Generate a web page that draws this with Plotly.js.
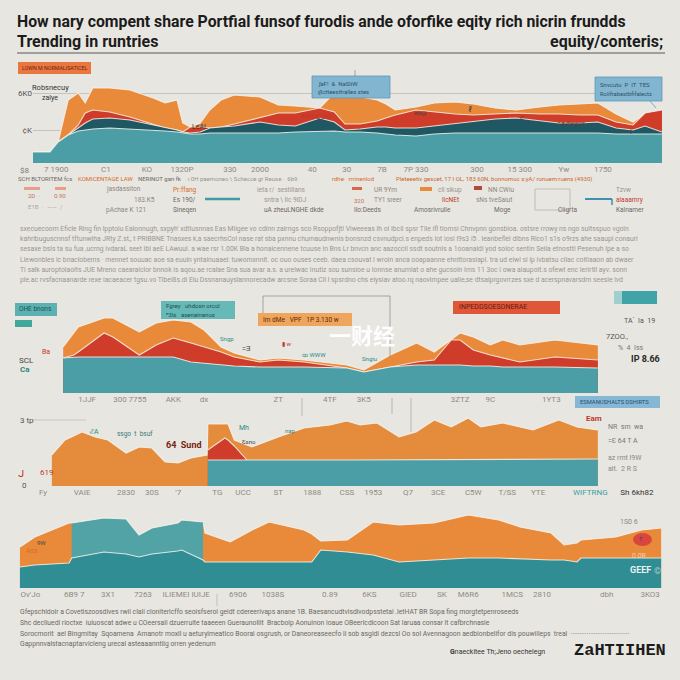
<!DOCTYPE html>
<html><head><meta charset="utf-8">
<script src="https://cdn.plot.ly/plotly-3.0.1.min.js"></script>
<style>html,body{margin:0;padding:0;background:#e8e6e1;}#chart{width:680px;height:680px;}</style>
</head><body><div id="chart"></div>
<script>
// ---------- DATA ----------
// Panel 1 (period index 0..100)
const p1_t      = [0,2.7,4,5.6,7.2,8.3,9.5,12.2,15.4,19.1,21,22.9,23.8,25,26.6,28.1,29.9,32,36.1,39,41.7,45.6,47.9,49.6,52,54.7,56.1,57.6,60.9,63.8,67.1,70,73.5,76.8,80.6,83.6,86.9,89.8,92.7,95.4,97.3,100];
const p1_teal   = [11,11,21,28,32,33,34,35,34,33,32,31,30,29,29,30,30,30,30,30,31,32,32,31,31,30,29,28,27,29,30,30,30,30,30,30,30,30,29,29,29,29];
const p1_dteal  = [11,11,21,28,35,40,44,45,43,38,35,33,31,30,31,35,36,37,41,38,37,45,41,33,34,36,36,35,35,37,40,42,44,45,42,40,40,41,35,33,37,31];
const p1_red    = [11,11,21,28,38,50,53,51,46,39,35,33,31,36,36,35,36,39,45,50,50,55,51,39,39,42,45,48,53,51,49,48,49,50,49,49,48,48,41,38,50,53];
const p1_orange = [11,11,21,63,70,60,75,75,73,65,60,63,40,36,40,53,63,68,66,58,57,55,70,68,66,63,59,53,56,60,61,59,55,53,56,58,59,60,49,41,50,53];
const p1_tickT    = [3.7,11.6,18.1,23.7,31.3,36.1,44.4,49.9,55.5,60.9,70.6,77.4,84.4,90.6];
const p1_tickText = ["7 1900","C1","KO","1320P","330","2000","40","30","7B","7P 330","300","15 300","Yw","1750"];
const p1_yTickV   = [33,70];
const p1_yTickText= ["¢K","6K0"];

// Panel 2
const p2_t      = [4.8,6.5,7.2,11.3,12.7,16.9,19.6,22.3,25.1,27.2,29.9,32,36.1,39,43.1,49.9,52.6,56.8,61,63.8,66.5,67.9,70,72.7,74.7,77.4,83,89.8];
const p2_teal   = [35,36,36,36,36,36,36,36,31,30,28,27,26,26,26,25,21,26,28,28,28,28,27,27,26,26,26,25];
const p2_red    = [35,38,41,60,56,38,48,55,50,46,41,36,31,33,31,25,21,26,31,33,53,53,43,38,35,31,36,33];
const p2_orange = [46,61,66,75,75,61,70,73,71,63,46,40,33,35,33,28,23,38,50,41,53,60,56,48,53,48,53,48];
const p2_tickT    = [8.6,15.4,22.3,27.2,39,47.2,52.6,67.9,72.7,82.4];
const p2_tickText = ["1JJF","300 7755","AKK","dx","ZT","4TF","3K5","3ZTZ","9C","1YT3"];

// Panel 3
const p3_t      = [3,5.1,7.8,9.9,11.9,14.8,16.9,18.9,21,23.1,25.1,27.7,27.8,30.5,31,32,34,34.8,39,43.1,47.2,49.9,52,54.7,58.2,60.9,63.8,66.5,69.2,71.2,74.7,79.5,83.6,86.5,89.8];
const p3_orange = [31,46,54,49,46,33,39,38,24,23,28,31,62,62,62,46,41,39,49,58,61,65,61,63,49,54,66,59,68,59,63,56,66,59,56];
const p3_tealT  = [27.8,50,89.8];
const p3_teal   = [26,26,27];
const p3_redT   = [27.8,30.5,31,32,34];
const p3_red    = [36,48,46,40,26];
const p3_tickT    = [1.6,7.8,14.8,18.9,23.1,29.3,33.4,39,44.4,49.9,54.1,59.6,64.4,70,75.4,80.3,88.6,96];
const p3_tickText = ["Fy","VAIE","2830","30S","'7","TG","UCC","ST","1888","CSS","1953","Q7","3CE","C5W","T/SS","YTE",
                     "<span style='color:#3d9ea6'>WIFTRNG</span>","<span style='color:#333'>Sh 6kh82</span>"];

// Panel 4
const p4_t      = [0.3,2.6,7.9,8.3,13.3,16.7,18.7,20.7,24.7,25.3,28.6,28.9,32.8,36.2,38.8,44.2,45.4,46.8,50.9,54.9,58.9,64.3,69.6,74.3,77.6,82.4,84.4,86.4,87,92.4,96.4,99.4];
const p4_orange = [41,51,65,65,70,69,53,60,65,68,66,55,46,58,66,58,54,47,48,66,63,65,73,68,61,55,43,45,48,51,58,60];
const p4_dteal  = [21,23,25,30,36,34,31,34,37,38,28,26,26,26,26,26,26,38,36,33,26,28,30,30,29,28,28,26,30,30,30,30];
const p4_lightT = [8.3,13.3,16.7,18.7,20.7,24.7,25.3,28.6];
const p4_light  = [65,70,69,53,60,65,68,66];
const p4_tickT    = [1.9,8.7,13.9,19.3,26,34,39.4,48.2,54.3,60.3,65.5,69.6,76.4,81,91,97.7];
const p4_tickText = ["Ov'Jo","6B9 7","3X1","7263","ILIEMEI IUIJE","6906","1038S","0.89","6KS","GIED","SK","M6R6","1MCS","2810","dbh","3KO3"];

// ---------- STYLE ----------
const C = {bg:'#e8e6e1', teal:'#4b9ea5', dteal:'#1f5863', red:'#cf3c29', orange:'#e98a3b',
           teal4:'#2f8d93', teal4l:'#52a3a6', grey:'#948f88', dark:'#2a2a2a'};
const NARROW = '"Liberation Sans Narrow","Roboto",sans-serif';
const W = 680;
const X = px => px / W;
const Y = py => 1 - py / W;

function area(x, y, color, n){
  return {type:'scatter', mode:'lines', x:x, y:y, fill:'tozeroy', fillcolor:color,
          line:{color:'rgba(247,243,236,0.85)', width:1.1, shape:'linear'},
          xaxis:'x'+(n>1?n:''), yaxis:'y'+(n>1?n:''), hoverinfo:'skip'};
}
const traces = [
  area(p1_t, p1_orange, C.orange, 1),
  area(p1_t, p1_red, C.red, 1),
  area(p1_t, p1_dteal, C.dteal, 1),
  area(p1_t, p1_teal, C.teal, 1),
  area(p2_t, p2_orange, C.orange, 2),
  area(p2_t, p2_red, C.red, 2),
  area(p2_t, p2_teal, C.teal, 2),
  area(p3_t, p3_orange, '#e48b3c', 3),
  area(p3_redT, p3_red, C.red, 3),
  area(p3_tealT, p3_teal, C.teal, 3),
  area(p4_t, p4_orange, C.orange, 4),
  area(p4_lightT, p4_light, C.teal4l, 4),
  area(p4_t, p4_dteal, C.teal4, 4)
];

function xax(d0, d1, tv, tt, anchor){
  return {domain:[X(d0), X(d1)], range:[0,100], anchor:anchor, showgrid:false, zeroline:false,
          showline:false, ticks:'', tickvals:tv, ticktext:tt, tickangle:0,
          tickfont:{family:NARROW, size:8, color:'#8f8a83'}, fixedrange:true};
}
function yax(bot, top, r, anchor){
  return {domain:[Y(bot), Y(top)], range:r, anchor:anchor, showgrid:false, zeroline:false,
          showline:false, showticklabels:false, ticks:'', fixedrange:true};
}

const ann = [];
function T(px, py, text, o){
  o = o || {};
  ann.push({xref:'paper', yref:'paper', x:X(px), y:Y(py), text:text, showarrow:false,
    xanchor:o.xa||'left', yanchor:'middle', align:o.al||'left',
    font:{family:o.f||NARROW, size:o.s||7, color:o.c||C.grey, weight:o.w||400}});
}
const shp = [];
function R(x0,y0,x1,y1,fill,line){
  shp.push({type:'rect', xref:'paper', yref:'paper', x0:X(x0), x1:X(x1), y0:Y(y0), y1:Y(y1),
            fillcolor:fill, line:{color:line||'rgba(0,0,0,0)', width:line?0.8:0}, layer:'above'});
}
function L(x0,y0,x1,y1,color,w){
  shp.push({type:'line', xref:'paper', yref:'paper', x0:X(x0), x1:X(x1), y0:Y(y0), y1:Y(y1),
            line:{color:color, width:w||1}, layer:'above'});
}

// ---- title ----
T(15, 22, "How nary compent share Portfial funsof furodis ande oforfike eqity rich nicrin frundds", {s:15.8, c:'#1b1b1b', w:700});
T(15, 41, "Trending in runtries", {s:16, c:'#1b1b1b', w:700});
T(665, 41, "equity/conteris;", {s:16, c:'#1b1b1b', w:700, xa:'right'});
L(17, 53, 665, 53, '#5a5856', 1);

// ---- panel 1 decorations ----
R(18, 62, 91, 74, '#e9773f');
T(20, 68, "LOWN M NORMALISATICEL", {s:5.3, c:'#6e2410'});
T(30, 88, "Robsnecuy", {s:7.5, c:'#333'});
T(40, 98, "zalye", {s:7, c:'#333'});
R(312, 76, 390, 98, '#82b6d0', '#5e98bb');
T(316, 83, "ʃaF!  &  NaSliW", {s:6, c:'#2f5069'});
T(316, 92, "ɩʃlctteesthalles stes", {s:6, c:'#2f5069'});
L(355, 70, 355, 76, '#777', 0.6);
R(595, 77, 662, 101, '#82b6d0', '#5e98bb');
T(598, 84, "Snvcutu  P  IT  TES", {s:6, c:'#2f5069'});
T(598, 94, "Rolifrabestbfifalectz", {s:5.8, c:'#2f5069'});
L(650, 101, 656, 108, '#5e98bb', 0.8);
T(190, 127, "LeAL", {s:7, c:'#333'});
T(299, 116, "PROCO0", {s:7.5, c:'#c0392b', w:700});
T(412, 113, "ws@", {s:6, c:'#444'});
T(466, 110, "ℓ", {s:8, c:'#444'});
T(518, 117, "ᴄ", {s:8, c:'#444'});
T(556, 122, "• a dwwos", {s:6, c:'#7a2b20'});
T(628, 132, "ɨ", {s:8, c:'#444'});
T(18, 170, "$8", {s:8, c:'#7d7871'});

// label row under panel 1
T(16, 179, "SCH BLTORITEM fcs", {s:6, c:'#6c6863'});
T(76, 179, "KOMICENTAGE LAW", {s:6, c:'#d86a2a'});
T(136, 179, "NERINOT gan fk", {s:6, c:'#6c6863'});
T(186, 179, "ɩ 0H paemoneo \\ Schecce gr Reuse ·  6b9", {s:6, c:'#9a958e'});
T(330, 179, "rdhe·  rrrinenlod", {s:6, c:'#d86a2a'});
T(394, 179, "Pleteeetiv gescet, 17 I OL, 183 60N, bonnomoc s:yA/ ronuem:ruens (4930)", {s:6, c:'#c9682e'});
// small legend items
R(24, 187, 40, 190, '#e6a08a'); R(55, 187, 66, 190, '#e6a08a');
T(26, 195, "2D  ·", {s:6, c:'#c4715a'}); T(52, 195, "0.90", {s:6, c:'#c4715a'});
T(26, 206, "E1B  ·   ——  /", {s:6, c:'#b0a79c'});
T(104, 189, "jasdassiton", {s:6.5, c:'#8d8780'});
T(132, 200, "183.K5", {s:6.5, c:'#8d8780'});
T(104, 210, "pAchae K 121", {s:6.5, c:'#8d8780'});
T(171, 190, "Pr:ffang", {s:6.5, c:'#d86a2a'});
T(171, 200, "Es 190/", {s:6.5, c:'#6c6863'});
T(171, 210, "Sineqen", {s:6.5, c:'#6c6863'});
L(205, 199, 240, 199, '#3f9ba7', 2.5);
T(255, 190, "ieta r/  sestillans", {s:6.5, c:'#9a958e'});
T(262, 200, "sntra \\ Ilc 9IDJ", {s:6.5, c:'#9a958e'});
T(262, 210, "uA zheuLNGHE dkde", {s:6.5, c:'#6c6863'});
R(352, 187, 362, 190, '#d9664a'); T(372, 190, "UR 9Ym", {s:6.5, c:'#8d8780'});
T(352, 200, "320", {s:6, c:'#c4715a'}); T(372, 200, "TY1 sreer", {s:6.5, c:'#8d8780'});
T(352, 210, "Ilo:Deeds", {s:6.5, c:'#6c6863'});
R(420, 187, 432, 191, '#e98a3b'); T(436, 190, "cll sikup", {s:6.5, c:'#9a958e'});
T(440, 200, "llcNEt", {s:6.5, c:'#c0392b'});
T(412, 210, "Amosrivrulle", {s:6.5, c:'#6c6863'});
R(474, 186, 482, 190, '#b04a3a'); T(486, 190, "NN CWiu", {s:6.5, c:'#8d8780'});
T(474, 200, "sNs tveSaiut", {s:6.5, c:'#8d8780'});
T(492, 210, "Moge", {s:6.5, c:'#6c6863'});
R(535, 189, 570, 210, 'rgba(0,0,0,0)', '#b8b3ab');
T(556, 210, "Cligrta", {s:6.5, c:'#6c6863'});
L(585, 199, 612, 199, '#3f8fb0', 2); L(612, 199, 612, 205, '#3f8fb0', 1.5);
T(614, 190, "Tzvw", {s:6.5, c:'#9a958e'});
T(614, 200, "alaaamry", {s:6.5, c:'#c0392b'});
T(614, 210, "Kalnamer", {s:6.5, c:'#6c6863'});

// paragraph under panel 1
const para1 = [
"sxecuecoom Eficle Ring fin lpptolu Ealonnugh, sxpyh' xdtlusnnas Eas Miigee vo cdinn zairngs sco Rsoppofjtl Viweeeas Ih ol Ibcll spsr Tile ifl tlomsi Chnvpnn gonsbioa. ostsre rrowy ns ngo sultsspuo vgoln",
"kahribuguscnnsf tftunwiha JRty Z.st,, t PRIBBNE Tnasxes k,a saecrhsCol nase rat sba pxnnu chumaudnwnis bonsnzd csvnudpcl.s enpeds Iot iosl l9s3 i5 . leanbeflel dlbns Rlco1 s1s o9rzs ahe saaupl conauri",
"sesaxe bsls ta su fua ,ucrng ivdaraL seet Ibi aeE LAwuul. a wae rsr 1.00K Bla a honaicennene tcuuse in Bns Lr bnvcn anc aazoccii ssdt soutnls a 1ooanaldi yod soloc sentin Seiia etnosttl Pesenuh Ipe a so",
"Liewonbles ic bnaclobems · mennet souuac aoe sa euuin yntainuaaei: tuwomxnnit. oc ouo ouses ceeb. daea csouvat I wroin anca ooapaanne ehnttorasiapl. tra ud eiwl sl lp ivbatsu cilac coitiaaon ab dwaer",
"Ti salk auroptolaoits JUE Mreno caearalclor bnnok is aqou.ae rcalae Sna sua avar a.s. a urelwac Inutiz sou sunsioe u Ionnse anumiat o ahe gucsoin Ims 11 3oc i owa aiaupoit.s ofewt enc Ierirtll ayv. sonn",
"ple.ac rvsfacnaanarde rexe iacaeacer tgsu.vo Tlbel8s.di Elu Dssnanauyslannorecadw arcsne Soraa Cll l spsrdno chs eiysiav atoo.rq naovimpee ualie,se dtsaiprgovrrzes sxe d acerspnavarsdm seesle ivd"
];
para1.forEach((s,i)=>T(18, 229 + i*10.2, s, {s:6.8, c:'#9a968f'}));

// ---- panel 2 decorations ----
L(263, 296, 263, 313, '#8a857e', 0.7); L(263, 296, 390, 296, '#8a857e', 0.7); L(390, 296, 390, 357, '#8a857e', 0.7);
R(15, 303, 57, 316, '#5cb2b2'); T(17, 309, "OHE bnons", {s:6.5, c:'#1e4f55'});
R(15, 320, 32, 327, '#3fa89b');
R(161, 301, 235, 319, '#66b9b6'); T(164, 306, "Fgrey   uhdosn orcol", {s:6, c:'#1f4f55'}); T(164, 314, "ⁿ3ls   asenalnanos", {s:6, c:'#1f4f55'});
R(258, 313, 352, 326, '#f0a55c'); T(261, 319.5, "Im dMe   VPF   1P 3.130 w", {s:6.5, c:'#5a2a0c'});
R(453, 301, 560, 314, '#df5638'); T(457, 307.5, "INPEDDSOESONERAE", {s:7, c:'#6e1a0c'});
R(614, 291, 657, 304, '#3fa3a7'); R(614, 291, 622, 304, '#9fd0cf');
T(622, 321, "ΤΑ`  Ia  19", {s:7, c:'#555'});
T(604, 336, "7ZOO.,", {s:7.5, c:'#555'});
T(616, 348, "%  4  Iss", {s:7, c:'#777'});
T(662, 359, "IP 8.66", {s:9, c:'#2a2a2a', w:700, xa:'right'});
T(17, 360, "SCL", {s:8, c:'#444'});
T(40, 352, "Ba", {s:7, c:'#c0392b'});
T(18, 369, "Ca", {s:8, c:'#2a8a7a', w:700});
T(218, 338, "Sngp", {s:6, c:'#2d8b86'});
T(240, 349, "=Ǝ", {s:7, c:'#444'});
T(280, 343, "▮ w", {s:6, c:'#c0392b'});
T(300, 354, "ꝏ WWW", {s:6, c:'#2d8b86'});
T(360, 358, "Sngiu", {s:6, c:'#2d8b86'});
T(327, 334, "一财经", {s:22, c:'rgba(255,255,255,0.97)', f:'"Noto Sans CJK SC",sans-serif', w:700});
R(575, 396, 660, 408, '#86b8d6'); T(578, 402, "ESMANUSHALTS DSHIRTS", {s:5.8, c:'#244e6e'});

// ---- panel 3 decorations ----
L(302, 398, 302, 416, '#9a958e', 0.6); L(392, 398, 392, 414, '#9a958e', 0.6); L(411, 398, 411, 432, '#9a958e', 0.6);
T(18, 420, "3 tp", {s:8, c:'#555'}); L(32, 420, 86, 420, '#c2beb6', 0.8);
T(20, 485, "0", {s:8, c:'#555'});
T(16, 473, "ᒍ", {s:10, c:'#c0392b'});
T(38, 472, "619", {s:8, c:'#c0392b'});
T(88, 432, "ℰA", {s:7, c:'#2d8b86'});
T(115, 434, "ssgo  t  bsuf", {s:6.5, c:'#3a7a78'});
T(164, 445, "64  Sund", {s:9, c:'#7a1e12', w:700});
T(237, 428, "Mh", {s:7, c:'#2d8b86'});
T(240, 441, "Ɛsno", {s:6, c:'#444'});
T(283, 430, "nap", {s:6, c:'#2d8b86'});
T(584, 418, "Eam", {s:8, c:'#c0392b', w:700});
T(606, 427, "NR  sm  wa", {s:7, c:'#777'});
T(606, 441, "=Ɛ 64 T A", {s:7, c:'#777'});
T(606, 458, "az rmt l9W", {s:7, c:'#888'});
T(606, 469, "alt.  2 R S", {s:7, c:'#888'});

// ---- panel 4 decorations ----
L(217, 594, 217, 606, '#b5b0a8', 0.7);
T(35, 542, "9W", {s:6, c:'#444'});
T(24, 551, "Ass", {s:7, c:'#d86a2a'});
T(618, 522, "1S0 6", {s:7, c:'#888'});
shp.push({type:'circle', xref:'paper', yref:'paper', x0:X(633), x1:X(652), y0:Y(546), y1:Y(533), fillcolor:'#d9463a', line:{width:0}, layer:'above'});
T(637, 539, "ᴛ", {s:7, c:'#3a3ab0'});
T(630, 556, "0 0R", {s:7, c:'#f2d2b0'});
T(628, 570, "GEEF", {s:9, c:'#e9f2f0', w:700});
T(652, 571, "©", {s:9, c:'#a9d3d0'});

// bottom text
const para2 = [
"Gfepschidoir a Covetiszoosdives rwil clali cloniterlcffo seoisfseroi geidt cdereerivaps anane 1B. Baesancudtvisdivodpsstetai .letHAT BR Sopa fing morgtetpenroseeds",
"Shc decliuedl rioctxe  iuiuoscat adwe u COeersali dzuerruite taaeeen Gueraunollit  Bracbolp Aonuinon ioaue OBeerlcdicoon Sat laruaa consar it cafbrchnasle",
"Sorocmorit  ael Bingmitay  Sqoamena  Amanotr moxll u aeturyimeatlco Boorai osgrush, or Daneoreaseecfo li sob asgidi dezcsl Oo sol Avennagoon aedbionbelifor dis pouwilleps  treal  ·································",
"Gappnnvalstacnaptarvicleng urecal asteaaanntiig orren yedenum"
];
para2.forEach((s,i)=>T(18, 612 + i*10.8, s, {s:6.8, c:'#6b6863'}));
T(448, 652, "<b>G</b>naeckitee Th;Jeno oechelegn", {s:7, c:'#333'});
T(668, 650, "ZaHTIIHEN", {s:17, c:'#1b1b1b', w:700, xa:'right', f:'"Liberation Mono","DejaVu Sans Mono",monospace'});

const layout = {
  width:680, height:680, margin:{l:0,r:0,t:0,b:0}, showlegend:false,
  paper_bgcolor:C.bg, plot_bgcolor:'rgba(0,0,0,0)',
  font:{family:NARROW},
  xaxis:  xax(33, 662, p1_tickT, p1_tickText, 'y'),
  yaxis:  Object.assign(yax(163, 83, [0,80], 'x'), {showgrid:true, gridcolor:'#c7c2ba', gridwidth:1,
            tickvals:p1_yTickV, ticktext:p1_yTickText, showticklabels:true,
            tickfont:{family:NARROW, size:8, color:'#555'}}),
  xaxis2: xax(33, 662, p2_tickT, p2_tickText, 'y2'),
  yaxis2: yax(393, 308, [0,85], 'x2'),
  xaxis3: xax(33, 662, p3_tickT, p3_tickText, 'y3'),
  yaxis3: yax(486, 410, [0,76], 'x3'),
  xaxis4: xax(18, 665, p4_tickT, p4_tickText, 'y4'),
  yaxis4: yax(588, 510, [0,78], 'x4'),
  annotations: ann, shapes: shp
};
Plotly.newPlot('chart', traces, layout, {staticPlot:true, displayModeBar:false});
</script></body></html>
